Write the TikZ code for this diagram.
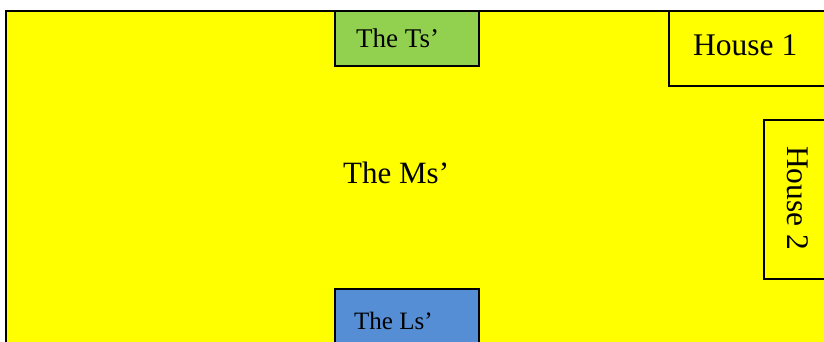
\documentclass[tikz,border=0pt]{standalone}
\usepackage{fontspec}
\setmainfont{Liberation Serif}
\definecolor{bgyellow}{HTML}{FFFF00}
\definecolor{tgreen}{HTML}{92D050}
\definecolor{lblue}{HTML}{558ED5}
\begin{document}
\begin{tikzpicture}[x=1pt,y=-1pt,
  box/.style={draw=black,line width=1.3pt},
  lbl/.style={inner sep=0pt,anchor=base west},
  hsetxt/.style={font=\fontsize{31.5}{38}\selectfont},
  bigtxt/.style={font=\fontsize{31}{37}\selectfont},
  smalltxt/.style={font=\fontsize{25}{30}\selectfont}]
\useasboundingbox (0,0) rectangle (824,341);
\clip (0,0) rectangle (824,341);
\fill[white] (0,0) rectangle (824,341);
\draw[box,fill=bgyellow] (6,11) rectangle (850,370);
\draw[box,fill=tgreen] (335,11) rectangle (479,66);
\draw[box,fill=bgyellow] (669,11) rectangle (850,86);
\draw[box,fill=bgyellow] (764,120) rectangle (850,279);
\draw[box,fill=lblue] (335,289) rectangle (479,370);
\node[lbl,font=\fontsize{27}{32}\selectfont] (ts) at (356,47) {The Ts’};
\node[lbl,smalltxt] (ls) at (354,329) {The Ls’};
\node[lbl,bigtxt] (ms) at (343,183) {The Ms’};
\node[lbl,hsetxt] (h1) at (693,55) {House 1};
\node[lbl,hsetxt,rotate=-90] (h2) at (787,146) {House 2};
\end{tikzpicture}
\end{document}
